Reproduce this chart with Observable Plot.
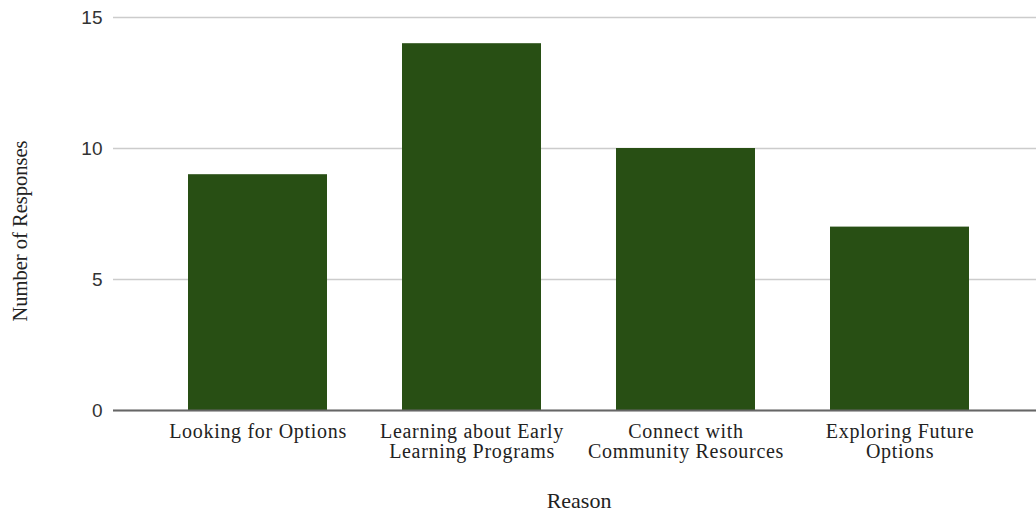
<!DOCTYPE html>
<html>
<head>
<meta charset="utf-8">
<script src="https://cdn.jsdelivr.net/npm/d3@7"></script>
<script src="https://cdn.jsdelivr.net/npm/@observablehq/plot@0.6"></script>
<style>
  html, body { margin: 0; padding: 0; background: #fff; }
  #chart svg { display: block; }
  #chart g[aria-label="x-axis tick label"] text { letter-spacing: 0.7px; }
</style>
</head>
<body>
<div id="chart"></div>
<script>
const categories = [
  "Looking for Options",
  "Learning about Early Learning Programs",
  "Connect with Community Resources",
  "Exploring Future Options"
];
const tickLabels = [
  "Looking for Options",
  "Learning about Early\nLearning Programs",
  "Connect with\nCommunity Resources",
  "Exploring Future\nOptions"
];
const responses = [9, 14, 10, 7];
const yTicks = [0, 5, 10, 15];
const xTitle = "Reason";
const yTitle = "Number of Responses";

const data = categories.map((c, i) => ({reason: c, count: responses[i]}));
const labelOf = new Map(categories.map((c, i) => [c, tickLabels[i]]));
const serif = "Liberation Serif, Times New Roman, serif";

const chart = Plot.plot({
  width: 1036,
  height: 514,
  marginLeft: 113,
  marginRight: 0,
  marginTop: 17,
  marginBottom: 104,
  x: {domain: categories, range: [113, 1045], padding: 0.35},
  y: {domain: [0, 15]},
  marks: [
    Plot.gridY(yTicks, {stroke: "#cccccc", strokeOpacity: 1, strokeWidth: 1.5}),
    Plot.barY(data, {x: "reason", y: "count", fill: "#284f14"}),
    Plot.ruleY([0], {stroke: "#666666", strokeWidth: 2}),
    Plot.axisY(yTicks, {tickSize: 0, tickPadding: 11, label: null,
      fontFamily: "Liberation Sans, Arial, sans-serif", fontSize: 19, fill: "#333"}),
    Plot.axisX({tickSize: 0, tickPadding: 13, label: null,
      tickFormat: d => labelOf.get(d), lineHeight: 1.0,
      fontFamily: serif, fontSize: 20, fill: "#222"}),
    Plot.text([xTitle], {frameAnchor: "bottom", dx: 4, dy: 97,
      fontFamily: serif, fontSize: 22, fill: "#222"}),
    Plot.text([yTitle], {frameAnchor: "left", textAnchor: "middle", dx: -93, dy: 17, rotate: -90,
      fontFamily: serif, fontSize: 20.5, fill: "#222"})
  ]
});
document.getElementById("chart").appendChild(chart);
</script>
</body>
</html>
